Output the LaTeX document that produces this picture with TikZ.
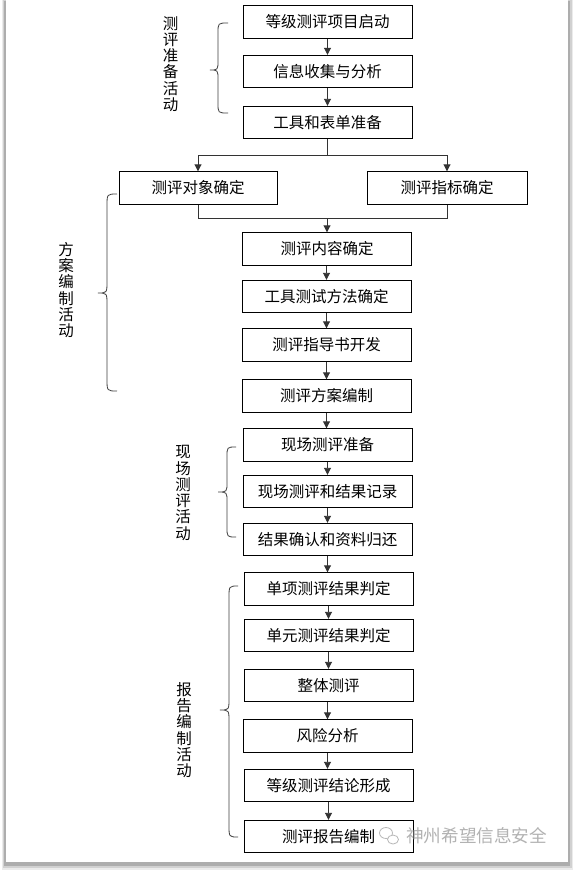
\documentclass[tikz,border=0pt]{standalone}
\usepackage{fontspec}
\newfontfamily\cjk{Noto Sans CJK SC}
\usetikzlibrary{arrows.meta}
\begin{document}
\begin{tikzpicture}[x=1pt,y=-1pt,
  box/.style={draw=black,line width=0.9pt,fill=white,minimum width=169pt,minimum height=32.5pt,inner sep=0pt,
    font=\cjk\fontsize{15.5}{17}\selectfont},
  wbox/.style={box,minimum width=158pt},
  arr/.style={draw=black!80,line width=0.9pt,-{Triangle[length=7pt,width=7pt]}},
  conn/.style={draw=black!80,line width=0.9pt},
  vlabel/.style={align=center,inner sep=0pt,font=\cjk\fontsize{15.5}{16.3}\selectfont},
  bracestyle/.style={draw=black!75,line width=0.8pt},
  wm/.style={text=black!30,inner sep=0pt,font=\cjk\fontsize{17.6}{18}\selectfont}
]
\useasboundingbox (0,0) rectangle (575,875);
% page with shadow
\fill[black!8] (2,-1) rectangle (573,870);
\fill[black!18] (3,0) rectangle (572,868);
\fill[black!32] (4,1) rectangle (570,866);
\fill[white] (6,0) rectangle (568,862);

% boxes
\node[box] (b1) at (327.5,22) {等级测评项目启动};
\node[box] (b2) at (327.5,71.5) {信息收集与分析};
\node[box] (b3) at (327.5,122.5) {工具和表单准备};
\node[wbox] (b4) at (198,188) {测评对象确定};
\node[wbox,minimum width=160pt] (b5) at (447,188) {测评指标确定};
\node[box] (b6) at (327,249) {测评内容确定};
\node[box] (b7) at (326.5,296.5) {工具测试方法确定};
\node[box] (b8) at (326.5,345) {测评指导书开发};
\node[box] (b9) at (326.5,396) {测评方案编制};
\node[box] (b10) at (327.5,445) {现场测评准备};
\node[box] (b11) at (327.5,491.5) {现场测评和结果记录};
\node[box] (b12) at (327.5,539.5) {结果确认和资料归还};
\node[box] (b13) at (328.5,589) {单项测评结果判定};
\node[box] (b14) at (328.5,635.5) {单元测评结果判定};
\node[box] (b15) at (328.5,685.5) {整体测评};
\node[box] (b16) at (327.5,736) {风险分析};
\node[box] (b17) at (328.5,785.5) {等级测评结论形成};
\node[box] (b18) at (328.5,836.5) {测评报告编制};

% connectors
\draw[arr] (b1) -- (b2);
\draw[arr] (b2) -- (b3);
\coordinate (split) at (327.5,155);
\draw[conn] (b3) -- (split);
\draw[arr] (split) -| (b4);
\draw[arr] (split) -| (b5);
\coordinate (merge) at (327,218);
\draw[conn] (b4) |- (merge);
\draw[conn] (b5) |- (merge);
\draw[arr] (merge) -- (b6);
\draw[arr] (b6.south -| b7.north) -- (b7);
\draw[arr] (b7) -- (b8);
\draw[arr] (b8) -- (b9);
\draw[arr] (b9.south) -- (b9.south |- b10.north);
\draw[arr] (b10) -- (b11);
\draw[arr] (b11) -- (b12);
\draw[arr] (b12.south) -- (b12.south |- b13.north);
\draw[arr] (b13) -- (b14);
\draw[arr] (b14) -- (b15);
\draw[arr] (b15.south -| b16.north) -- (b16);
\draw[arr] (b16.south) -- (b16.south |- b17.north);
\draw[arr] (b17) -- (b18);

% braces
\draw[bracestyle] (228,23) .. controls (218,23) .. (218,33) -- (218,60) .. controls (218,70) .. (210,70)
  .. controls (218,70) .. (218,80) -- (218,103) .. controls (218,113) .. (228,113);
\draw[bracestyle] (117,194) .. controls (107,194) .. (107,206) -- (107,281) .. controls (107,293) .. (98,293)
  .. controls (107,293) .. (107,305) -- (107,379) .. controls (107,391) .. (117,391);
\draw[bracestyle] (236,447) .. controls (227,447) .. (227,457) -- (227,482) .. controls (227,492) .. (218,492)
  .. controls (227,492) .. (227,502) -- (227,527) .. controls (227,537) .. (236,537);
\draw[bracestyle] (238,586) .. controls (229,586) .. (229,598) -- (229,698) .. controls (229,710) .. (220,710)
  .. controls (229,710) .. (229,722) -- (229,825) .. controls (229,837) .. (238,837);

% vertical labels
\node[vlabel] (l1) at (170.5,64) {测\\评\\准\\备\\活\\动};
\node[vlabel] (l2) at (66,290) {方\\案\\编\\制\\活\\动};
\node[vlabel] (l3) at (183,493) {现\\场\\测\\评\\活\\动};
\node[vlabel] (l4) at (184,730) {报\\告\\编\\制\\活\\动};

% watermark
\begin{scope}[draw=black!28,line width=0.8pt]
  \draw (386,833) ellipse [x radius=6.5pt,y radius=5.5pt];
  \draw[fill=white] (393,839.5) ellipse [x radius=5.5pt,y radius=4.5pt];
\end{scope}
\node[wm,anchor=west] (wmtext) at (406,836) {神州希望信息安全};
\end{tikzpicture}
\end{document}
